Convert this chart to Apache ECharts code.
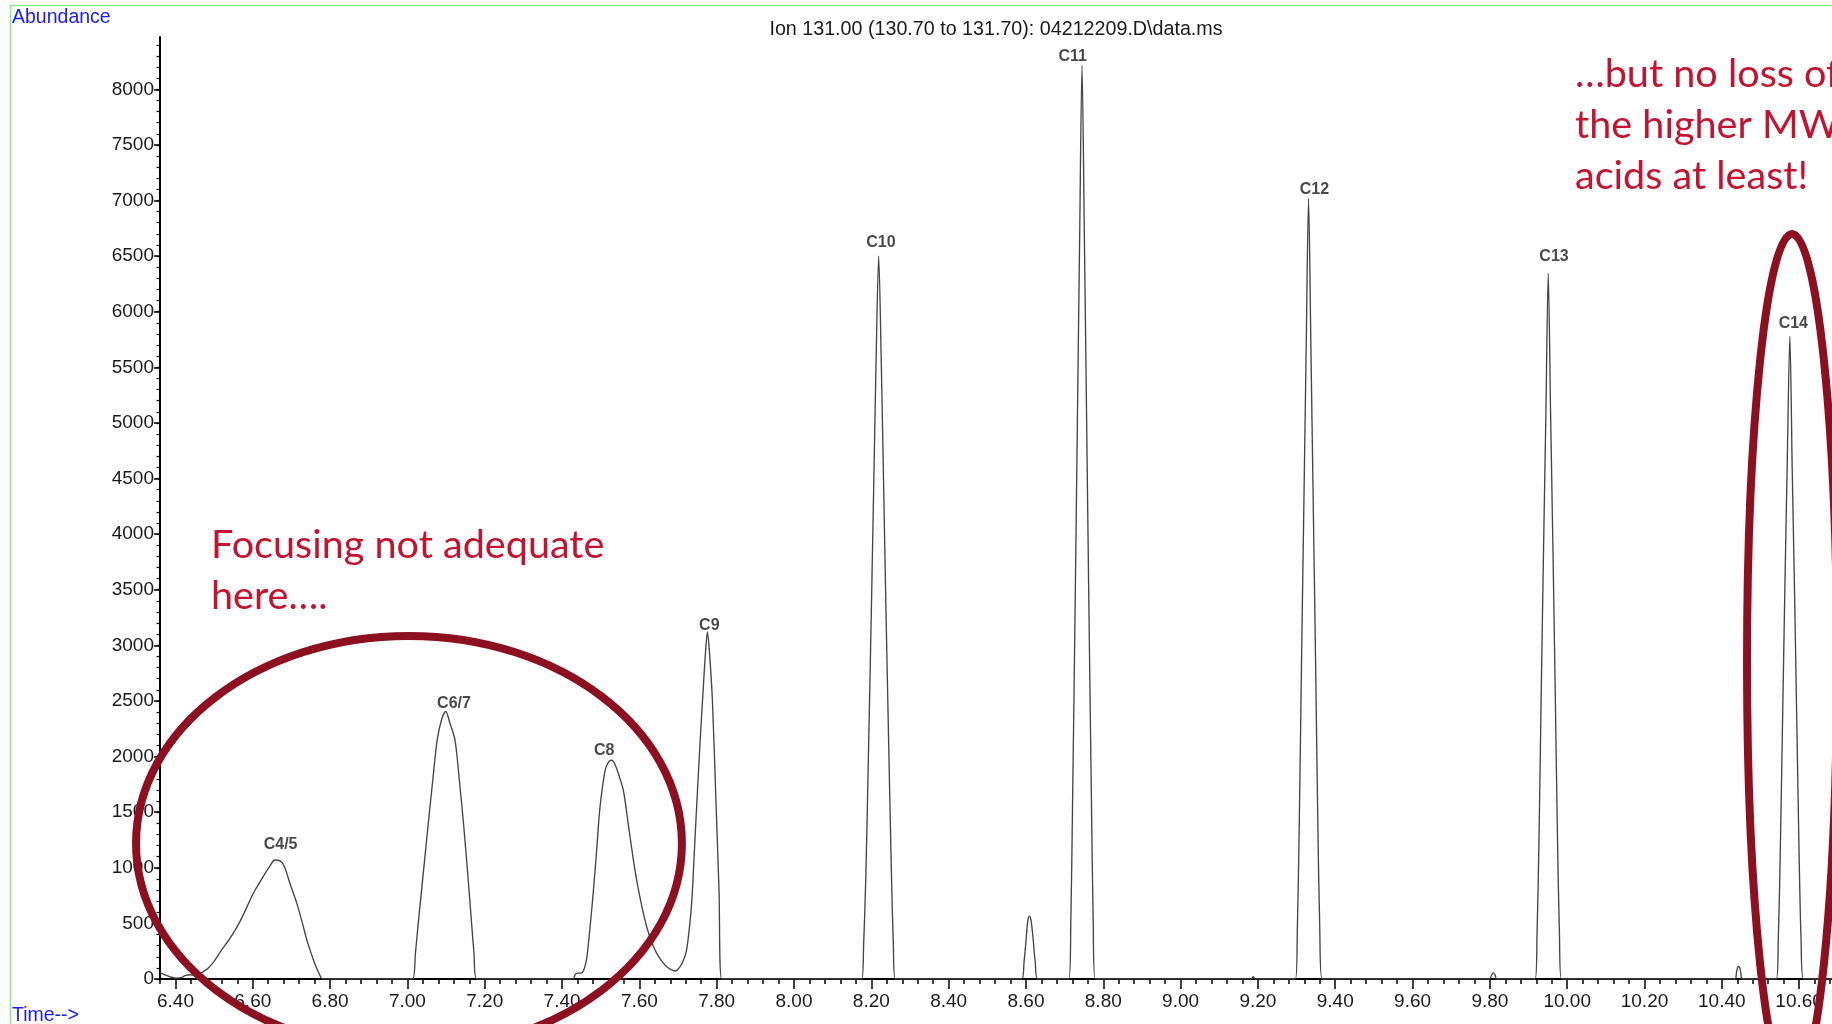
<!DOCTYPE html>
<html>
<head>
<meta charset="utf-8">
<script src="https://cdn.jsdelivr.net/npm/echarts@6.0.0/dist/echarts.min.js"></script>
<style>
html,body{margin:0;padding:0;background:#fff;}
#chart{width:1832px;height:1024px;}
</style>
</head>
<body>
<div id="chart"></div>
<script>
// ---- Data (time in min, abundance) ----
const timeMin = [
  6.360,6.370,6.380,6.390,6.403,6.415,6.425,6.438,6.450,6.462,6.472,6.485,6.497,6.507,6.520,6.535,6.550,6.565,6.580,6.593,
  6.606,6.619,6.632,6.645,6.657,6.666,6.675,6.682,6.688,6.700,6.714,6.727,6.740,6.757,6.770,6.778,6.785,
  7.000,7.014,7.021,7.028,7.041,7.054,7.066,7.077,7.089,7.099,7.110,7.123,7.134,7.145,7.156,7.166,7.172,7.179,
  7.420,7.429,7.434,7.440,7.451,7.458,7.464,7.472,7.481,7.490,7.498,7.511,7.520,7.529,7.538,7.550,7.559,7.571,7.582,7.593,
  7.606,7.619,7.632,7.645,7.658,7.671,7.685,7.694,7.702,7.712,7.722,7.730,7.736,7.742,7.748,7.753,7.758,7.764,7.770,7.776,
  7.781,7.789,7.798,7.806,7.813,
  8.175,8.180,8.186,8.193,8.200,8.206,8.212,8.219,8.226,8.232,8.238,8.245,8.252,8.257,8.262,
  8.589,8.595,8.601,8.605,8.609,8.613,8.618,8.624,8.631,
  8.711,8.716,8.721,8.727,8.733,8.739,8.745,8.751,8.757,8.763,8.769,8.774,8.779,
  9.183,9.188,9.193,
  9.297,9.302,9.307,9.313,9.319,9.325,9.331,9.337,9.343,9.349,9.355,9.360,9.366,
  9.799,9.805,9.809,9.813,9.818,
  9.917,9.922,9.927,9.933,9.939,9.945,9.951,9.957,9.963,9.969,9.975,9.980,9.985,
  10.434,10.438,10.441,10.443,10.446,10.449,10.453,
  10.541,10.546,10.551,10.557,10.563,10.569,10.576,10.582,10.588,10.594,10.600,10.605,10.611,10.685
];
const abundance = [
  57,42,28,16,8,12,30,38,32,48,66,100,145,195,265,335,415,505,610,710,
  800,875,950,1020,1070,1068,1050,1010,950,820,680,520,350,171,60,6,0,
  0,0,240,500,950,1400,1800,2150,2340,2405,2300,2150,1800,1400,950,500,240,0,
  0,0,40,52,55,100,190,450,790,1180,1540,1870,1950,1968,1920,1800,1690,1400,1130,890,
  660,470,330,230,160,110,80,72,95,150,260,480,720,1130,1540,1870,2190,2540,2880,3120,
  2950,2500,1610,800,0,
  0,300,950,2100,3300,4400,5500,6500,5500,4400,3300,2100,950,300,0,
  0,150,380,530,566,530,380,150,0,
  0,500,1700,3300,5000,6700,8215,6700,5000,3300,1700,500,0,
  0,22,0,
  0,450,1400,2900,4300,5700,7018,5700,4300,2900,1400,450,0,
  0,40,55,40,0,
  0,400,1250,2600,3900,5100,6345,5100,3900,2600,1250,400,0,
  0,60,105,114,105,60,0,
  0,350,1100,2300,3500,4600,5778,4600,3500,2300,1100,350,0,0
];

const peakNames      = ['C4/5','C6/7','C8','C9','C10','C11','C12','C13','C14'];
const peakLabelTime  = [6.672, 7.1205, 7.509, 7.781, 8.225, 8.721, 9.346, 9.966, 10.585];
const peakLabelAbund = [1206, 2476, 2057, 3179, 6621, 8292, 7094, 6496, 5890];

const xTickLabels = ['6.40','6.60','6.80','7.00','7.20','7.40','7.60','7.80','8.00','8.20','8.40',
  '8.60','8.80','9.00','9.20','9.40','9.60','9.80','10.00','10.20','10.40','10.60'];
const yTickLabels = ['0','500','1000','1500','2000','2500','3000','3500','4000','4500','5000',
  '5500','6000','6500','7000','7500','8000'];

// annotation ellipses, in data units (centre time, centre abundance, half width, half height)
const ellipseTime   = [7.004, 10.5816];
const ellipseAbund  = [1219, 2850];
const ellipseHalfT  = [0.706, 0.1164];
const ellipseHalfA  = [1865, 3848];

const annotationLeft  = ['Focusing not adequate', 'here….'];
const annotationRight = ['…but no loss of', 'the higher MW', 'acids at least!'];
const chartTitle = 'Ion 131.00 (130.70 to 131.70): 04212209.D\\data.ms';

// ---- build ----
const X_MIN = 6.36, X_MAX = 10.685, Y_MIN = 0, Y_MAX = 8470;
const xMajor = xTickLabels.map(Number);
const xMinor = [];
for (let i = 0; i <= 108; i++) xMinor.push(Math.round((6.36 + i * 0.04) * 1000) / 1000);
const yMajor = yTickLabels.map(Number);
const yMinor = [];
for (let v = 0; v <= 8400; v += 100) yMinor.push(v);

const lineData = timeMin.map((t, i) => [t, abundance[i]]);
const labelData = peakNames.map((n, i) => ({ name: n, value: [peakLabelTime[i], peakLabelAbund[i]] }));

const FONT = '"Liberation Sans", Arial, sans-serif';
const chart = echarts.init(document.getElementById('chart'), null, { renderer: 'canvas' });

const baseAxisX = { type: 'value', min: X_MIN, max: X_MAX, position: 'bottom', splitLine: { show: false } };
const baseAxisY = { type: 'value', min: Y_MIN, max: Y_MAX, position: 'left', splitLine: { show: false } };

chart.setOption({
  animation: false,
  backgroundColor: '#ffffff',
  grid: { left: 160, right: 0, top: 37, bottom: 45, containLabel: false },
  xAxis: [
    Object.assign({}, baseAxisX, {
      axisLine: { show: true, onZero: false, lineStyle: { color: '#000', width: 2 } },
      axisTick: { show: true, customValues: xMajor, length: 10, lineStyle: { color: '#000', width: 1.5 } },
      axisLabel: { show: true, customValues: xMajor, formatter: v => v.toFixed(2),
                   fontFamily: FONT, fontSize: 19, color: '#1a1a1a', margin: 13 }
    }),
    Object.assign({}, baseAxisX, {
      axisLine: { show: false },
      axisTick: { show: true, customValues: xMinor, length: 5, lineStyle: { color: '#000', width: 1.5 } },
      axisLabel: { show: false }
    })
  ],
  yAxis: [
    Object.assign({}, baseAxisY, {
      axisLine: { show: true, onZero: false, lineStyle: { color: '#000', width: 2 } },
      axisTick: { show: true, customValues: yMajor, length: 6, lineStyle: { color: '#000', width: 1.5 } },
      axisLabel: { show: true, customValues: yMajor, formatter: v => String(v),
                   fontFamily: FONT, fontSize: 19, color: '#1a1a1a', margin: 6 }
    }),
    Object.assign({}, baseAxisY, {
      axisLine: { show: false },
      axisTick: { show: true, customValues: yMinor, length: 3.5, lineStyle: { color: '#000', width: 1.2 } },
      axisLabel: { show: false }
    })
  ],
  series: [
    {
      type: 'line', xAxisIndex: 0, yAxisIndex: 0, data: lineData,
      symbol: 'none', showSymbol: false, smooth: 0.3,
      lineStyle: { color: '#454545', width: 1.35 }, z: 3, silent: true
    },
    {
      type: 'scatter', xAxisIndex: 0, yAxisIndex: 0, data: labelData,
      symbolSize: 1, itemStyle: { color: 'rgba(0,0,0,0)' }, silent: true, z: 4,
      label: { show: true, position: 'inside', formatter: p => p.name,
               fontFamily: FONT, fontSize: 16, fontWeight: 'bold', color: '#1a1a1a' }
    }
  ]
});

// ---- annotations ----
const graphics = [];
graphics.push({ type: 'rect', silent: true, z: 1,
  shape: { x: 10.5, y: 5.5, width: 1900, height: 1100 },
  style: { fill: 'none', stroke: '#88ec88', lineWidth: 1.5 } });
const txt = (text, x, y, font, fill, align) => ({
  type: 'text', x: x, y: y, z: 120, silent: true,
  style: { text: text, font: font, fill: fill, align: align || 'left', textAlign: align || 'left',
           verticalAlign: 'middle', textVerticalAlign: 'middle' }
});
graphics.push(txt('Abundance', 12, 18, '19.5px "Liberation Sans", Arial', '#1a1aff'));
graphics.push(txt('Time-->', 12, 1016, '19.5px "Liberation Sans", Arial', '#1a1aff'));
graphics.push(txt(chartTitle, 996, 29.5, '19.7px "Liberation Sans", Arial', '#1a1a1a', 'center'));

const RED = '#c4122f';
const redFont = '39.6px Lato, "Open Sans", sans-serif';
annotationLeft.forEach((s, i) => graphics.push(txt(s, 211, 545 + i * 51, redFont, RED)));
annotationRight.forEach((s, i) => graphics.push(txt(s, 1575, 74.5 + i * 51, redFont, RED)));

for (let i = 0; i < ellipseTime.length; i++) {
  const c = chart.convertToPixel({ gridIndex: 0 }, [ellipseTime[i], ellipseAbund[i]]);
  const e = chart.convertToPixel({ gridIndex: 0 }, [ellipseTime[i] + ellipseHalfT[i], ellipseAbund[i] + ellipseHalfA[i]]);
  graphics.push({ type: 'ellipse', silent: true, z: 110,
    shape: { cx: c[0], cy: c[1], rx: Math.abs(e[0] - c[0]), ry: Math.abs(c[1] - e[1]) },
    style: { fill: 'none', stroke: '#8c1020', lineWidth: 8 } });
}
chart.setOption({ graphic: graphics });
</script>
</body>
</html>
